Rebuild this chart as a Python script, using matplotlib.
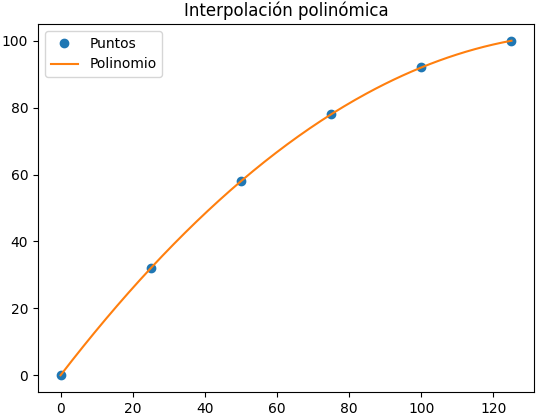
import numpy as np
import matplotlib
matplotlib.use("Agg")
import matplotlib.pyplot as plt

x_points = [0, 25, 50, 75, 100, 125]
y_points = [0, 32, 58, 78, 92, 100]

coefs = np.polyfit(x_points, y_points, len(x_points) - 1)
x_curve = np.linspace(min(x_points), max(x_points), 200)
y_curve = np.polyval(coefs, x_curve)

fig = plt.figure(figsize=(5.36, 4.18), dpi=100)
ax = fig.add_axes([38 / 536, 26 / 418, 496 / 536, 368 / 418])
ax.plot(x_points, y_points, 'o', label='Puntos')
ax.plot(x_curve, y_curve, '-', label='Polinomio')
ax.set_title('Interpolación polinómica')
ax.legend(loc='upper left')
fig.savefig('out.png', dpi=100)
